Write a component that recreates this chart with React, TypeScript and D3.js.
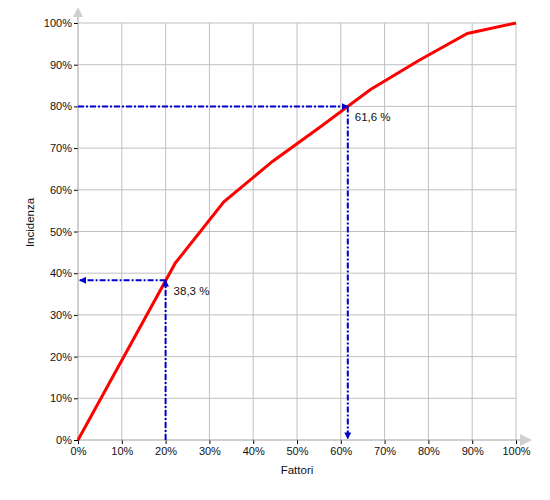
import { useEffect, useRef } from 'react';
import { select, scaleLinear, line, axisBottom, axisLeft, range } from 'd3';

// cumulative curve (x = share of factors, y = incidence), both in %
const fattori = [0, 22.2, 33.3, 44.4, 55.6, 66.7, 77.8, 88.9, 100];
const incidenza = [0, 42.4, 57.1, 66.8, 75.3, 84, 91, 97.5, 100];
const tickValues = range(0, 101, 10);

// the two reading lines
const readX = 20; // 20% of factors -> 38.3% incidence
const readXValue = 38.3;
const readY = 80; // 80% incidence -> 61.6% factors
const readYValue = 61.6;

export default function App() {
  const svgRef = useRef<SVGSVGElement>(null);

  useEffect(() => {
    if (!svgRef.current) return;
    const svg = select(svgRef.current);
    svg.selectAll('*').remove();

    const width = 550;
    const height = 500;
    const margin = { top: 23, right: 34, bottom: 60, left: 78 };
    const innerWidth = width - margin.left - margin.right;
    const innerHeight = height - margin.top - margin.bottom;

    const x = scaleLinear().domain([0, 100]).range([0, innerWidth]);
    const y = scaleLinear().domain([0, 100]).range([innerHeight, 0]);

    const defs = svg.append('defs');
    defs
      .append('marker')
      .attr('id', 'blue-arrow')
      .attr('viewBox', '0 0 10 10')
      .attr('refX', 9)
      .attr('refY', 5)
      .attr('markerWidth', 3.5)
      .attr('markerHeight', 3.5)
      .attr('orient', 'auto')
      .append('path')
      .attr('d', 'M0,0 L10,5 L0,10 Z')
      .attr('fill', '#0000cc');

    const g = svg.append('g').attr('transform', `translate(${margin.left},${margin.top})`);

    // grid
    g.append('g')
      .selectAll('line')
      .data(tickValues.slice(1))
      .enter()
      .append('line')
      .attr('x1', (d) => x(d))
      .attr('x2', (d) => x(d))
      .attr('y1', 0)
      .attr('y2', innerHeight)
      .attr('stroke', '#c0c0c0');
    g.append('g')
      .selectAll('line')
      .data(tickValues.slice(1))
      .enter()
      .append('line')
      .attr('x1', 0)
      .attr('x2', innerWidth)
      .attr('y1', (d) => y(d))
      .attr('y2', (d) => y(d))
      .attr('stroke', '#c0c0c0');

    // axes
    const xAxis = g
      .append('g')
      .attr('transform', `translate(0,${innerHeight})`)
      .call(axisBottom(x).tickValues(tickValues).tickSize(4).tickPadding(3).tickFormat((d) => `${d}%`));
    const yAxis = g
      .append('g')
      .call(axisLeft(y).tickValues(tickValues).tickSize(4).tickPadding(2).tickFormat((d) => `${d}%`));

    [xAxis, yAxis].forEach((a) => {
      a.select('.domain').remove();
      a.selectAll('.tick line').attr('stroke', '#000');
      a.selectAll('.tick text')
        .attr('fill', '#111')
        .style('font-family', 'Liberation Sans, Arial, sans-serif')
        .style('font-size', '11px');
    });

    // axis lines with grey arrow heads
    g.append('line')
      .attr('x1', 0)
      .attr('x2', innerWidth + 4)
      .attr('y1', innerHeight)
      .attr('y2', innerHeight)
      .attr('stroke', '#a0a0a0');
    g.append('line')
      .attr('x1', 0)
      .attr('x2', 0)
      .attr('y1', innerHeight)
      .attr('y2', -6)
      .attr('stroke', '#a0a0a0');
    g.append('path')
      .attr('d', `M${-5},${-6} L0,${-16} L5,${-6} Z`)
      .attr('fill', '#d0d0d0');
    g.append('path')
      .attr('d', `M${innerWidth + 4},${innerHeight - 6} L${innerWidth + 16},${innerHeight} L${innerWidth + 4},${innerHeight + 6} Z`)
      .attr('fill', '#d0d0d0');

    // curve
    const pts = fattori.map((f, i) => [f, incidenza[i]] as [number, number]);
    g.append('path')
      .datum(pts)
      .attr('d', line<[number, number]>().x((d) => x(d[0])).y((d) => y(d[1])))
      .attr('fill', 'none')
      .attr('stroke', '#ff0000')
      .attr('stroke-width', 3);

    // reading lines
    const guide = (x1: number, y1: number, x2: number, y2: number) =>
      g
        .append('line')
        .attr('x1', x(x1))
        .attr('y1', y(y1))
        .attr('x2', x(x2))
        .attr('y2', y(y2))
        .attr('stroke', '#0000cc')
        .attr('stroke-width', 2)
        .attr('stroke-dasharray', '6,2,2,2')
        .attr('marker-end', 'url(#blue-arrow)');

    guide(readX, 0, readX, readXValue);
    guide(readX, readXValue, 0.4, readXValue);
    guide(0, readY, readYValue, readY);
    guide(readYValue, readY, readYValue, 0.3);

    const labelStyle = (t: any) =>
      t.attr('fill', '#111').style('font-family', 'Liberation Sans, Arial, sans-serif').style('font-size', '11.5px');

    labelStyle(
      g
        .append('text')
        .attr('x', x(readX) + 8)
        .attr('y', y(readXValue) + 15)
        .text(`${String(readXValue).replace('.', ',')} %`)
    );
    labelStyle(
      g
        .append('text')
        .attr('x', x(readYValue) + 7)
        .attr('y', y(readY) + 15)
        .text(`${String(readYValue).replace('.', ',')} %`)
    );

    // axis titles
    labelStyle(
      g
        .append('text')
        .attr('x', innerWidth / 2)
        .attr('y', innerHeight + 34)
        .attr('text-anchor', 'middle')
        .text('Fattori')
    );
    labelStyle(
      g
        .append('text')
        .attr('transform', 'rotate(-90)')
        .attr('x', -innerHeight / 2 + 9)
        .attr('y', -44)
        .attr('text-anchor', 'middle')
        .text('Incidenza')
    );
  }, []);

  return (
    <svg
      ref={svgRef}
      width={550}
      height={500}
      style={{ position: 'absolute', left: 0, top: 0, background: '#fff' }}
    />
  );
}
